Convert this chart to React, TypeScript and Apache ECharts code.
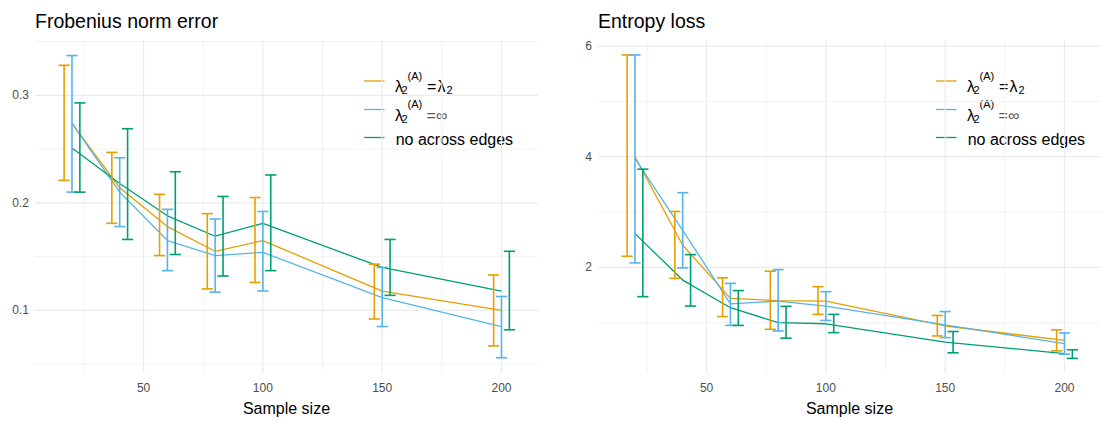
import React, { useEffect, useRef } from "react";
import * as echarts from "echarts";

const sampleSizes = [20, 40, 60, 80, 100, 150, 200];

// Frobenius norm error
const frobEqualMean = [0.274, 0.214, 0.178, 0.155, 0.165, 0.118, 0.1];
const frobEqualLow = [0.221, 0.181, 0.151, 0.12, 0.126, 0.092, 0.067];
const frobEqualHigh = [0.328, 0.247, 0.208, 0.19, 0.205, 0.143, 0.133];
const frobInfMean = [0.274, 0.21, 0.165, 0.151, 0.154, 0.112, 0.085];
const frobInfLow = [0.21, 0.178, 0.137, 0.117, 0.118, 0.085, 0.056];
const frobInfHigh = [0.337, 0.242, 0.194, 0.185, 0.192, 0.14, 0.113];
const frobNoneMean = [0.251, 0.218, 0.188, 0.169, 0.181, 0.14, 0.118];
const frobNoneLow = [0.21, 0.166, 0.152, 0.132, 0.137, 0.114, 0.082];
const frobNoneHigh = [0.293, 0.269, 0.229, 0.206, 0.226, 0.166, 0.155];

// Entropy loss
const entEqualMean = [4.0, 2.4, 1.44, 1.4, 1.39, 0.94, 0.68];
const entEqualLow = [2.2, 1.8, 1.11, 0.88, 1.15, 0.76, 0.49];
const entEqualHigh = [5.84, 3.01, 1.81, 1.93, 1.65, 1.13, 0.87];
const entInfMean = [3.97, 2.67, 1.34, 1.39, 1.3, 0.96, 0.62];
const entInfLow = [2.08, 1.99, 0.95, 0.85, 1.04, 0.73, 0.43];
const entInfHigh = [5.84, 3.35, 1.71, 1.96, 1.56, 1.2, 0.815];
const entNoneMean = [2.61, 1.77, 1.27, 1.0, 0.98, 0.65, 0.44];
const entNoneLow = [1.47, 1.3, 0.95, 0.72, 0.82, 0.455, 0.354];
const entNoneHigh = [3.775, 2.23, 1.58, 1.295, 1.15, 0.84, 0.51];

// Axis breaks
const xMajor = [50, 100, 150, 200];
const xMinor = [25, 75, 125, 175];
const frobYMajor = [0.1, 0.2, 0.3];
const frobYMinor = [0.05, 0.15, 0.25, 0.35];
const entYMajor = [2, 4, 6];
const entYMinor = [1, 3, 5];

const COLORS = { equal: "#E69F00", inf: "#56B4E9", none: "#009E73" };
const FONT = '"Liberation Sans", Arial, Helvetica, sans-serif';
const DODGE = 3.3;
const CAP = 2.35;
const X_MIN = 4.5;
const X_MAX = 215.3;

function gridLineSeries(idx: number, yMin: number, yMajor: number[], yMinor: number[]) {
  const data: number[][] = [];
  xMajor.forEach((v) => data.push([v, yMin, 0, 1]));
  xMinor.forEach((v) => data.push([v, yMin, 0, 0]));
  yMajor.forEach((v) => data.push([X_MIN, v, 1, 1]));
  yMinor.forEach((v) => data.push([X_MIN, v, 1, 0]));
  return {
    type: "custom",
    xAxisIndex: idx,
    yAxisIndex: idx,
    silent: true,
    z: 0,
    data,
    renderItem: (params: any, api: any) => {
      const cs = params.coordSys;
      const p = api.coord([api.value(0), api.value(1)]);
      const horiz = api.value(2) === 1;
      const major = api.value(3) === 1;
      const shape = horiz
        ? { x1: cs.x, y1: p[1], x2: cs.x + cs.width, y2: p[1] }
        : { x1: p[0], y1: cs.y, x2: p[0], y2: cs.y + cs.height };
      return {
        type: "line",
        shape,
        style: { stroke: major ? "#EBEBEB" : "#F2F2F2", lineWidth: major ? 1.2 : 1 },
      };
    },
  };
}

function lineSeries(idx: number, name: string, color: string, means: number[]) {
  return {
    type: "line",
    name,
    xAxisIndex: idx,
    yAxisIndex: idx,
    data: sampleSizes.map((n, i) => [n, means[i]]),
    showSymbol: false,
    symbol: "none",
    lineStyle: { color, width: 1.3 },
    z: 3,
  };
}

function errorSeries(idx: number, color: string, offset: number, lows: number[], highs: number[]) {
  return {
    type: "custom",
    xAxisIndex: idx,
    yAxisIndex: idx,
    silent: true,
    z: 4,
    encode: { x: 0, y: [1, 2] },
    data: sampleSizes.map((n, i) => [n, lows[i], highs[i]]),
    renderItem: (params: any, api: any) => {
      const x = api.value(0) + offset;
      const lo = api.coord([x, api.value(1)]);
      const hi = api.coord([x, api.value(2)]);
      const l = api.coord([x - CAP, api.value(1)])[0];
      const r = api.coord([x + CAP, api.value(1)])[0];
      const style = { stroke: color, lineWidth: 1.6 };
      return {
        type: "group",
        children: [
          { type: "line", shape: { x1: lo[0], y1: lo[1], x2: hi[0], y2: hi[1] }, style },
          { type: "line", shape: { x1: l, y1: hi[1], x2: r, y2: hi[1] }, style },
          { type: "line", shape: { x1: l, y1: lo[1], x2: r, y2: lo[1] }, style },
        ],
      };
    },
  };
}

function txt(x: number, y: number, text: string, size: number, fill = "#000") {
  return {
    type: "text",
    x,
    y,
    silent: true,
    style: {
      text,
      fill,
      fontSize: size,
      fontFamily: FONT,
      align: "left",
      verticalAlign: "middle",
      textAlign: "left",
      textVerticalAlign: "middle",
    },
  };
}

function legendGraphic(dx: number) {
  const keyY = [81, 109.5, 137.5];
  const cols = [COLORS.equal, COLORS.inf, COLORS.none];
  const els: any[] = [];
  keyY.forEach((y, i) => {
    els.push({
      type: "line",
      silent: true,
      shape: { x1: 364 + dx, y1: y, x2: 384.5 + dx, y2: y },
      style: { stroke: cols[i], lineWidth: 1.3 },
    });
  });
  const tx = 395 + dx;
  // row 1: lambda_2^(A) = lambda_2
  let b = keyY[0] + 5.5;
  els.push(txt(tx, b, "λ", 16));
  els.push(txt(tx + 6.5, b + 3.8, "2", 11));
  els.push(txt(tx + 12.5, b - 11, "(A)", 11));
  els.push(txt(tx + 32, b, "=", 16));
  els.push(txt(tx + 42.5, b, "λ", 16));
  els.push(txt(tx + 51.5, b + 3.8, "2", 11));
  // row 2: lambda_2^(A) = infinity
  b = keyY[1] + 5.5;
  els.push(txt(tx, b, "λ", 16));
  els.push(txt(tx + 6.5, b + 3.8, "2", 11));
  els.push(txt(tx + 12.5, b - 11, "(A)", 11));
  els.push(txt(tx + 31.5, b, "=", 16, "#555"));
  els.push(txt(tx + 41, b, "∞", 16, "#555"));
  // row 3
  els.push(txt(tx + 0.7, keyY[2] + 1.5, "no across edges", 16));
  return els;
}

function xAxis(idx: number) {
  return {
    type: "value",
    gridIndex: idx,
    min: X_MIN,
    max: X_MAX,
    axisLine: { show: false },
    axisTick: { show: false },
    splitLine: { show: false },
    axisLabel: {
      customValues: xMajor,
      color: "#4D4D4D",
      fontSize: 12,
      fontFamily: FONT,
      margin: 9,
    },
    name: "Sample size",
    nameLocation: "middle",
    nameGap: 27,
    nameTextStyle: { color: "#000", fontSize: 16, fontFamily: FONT },
  };
}

function yAxis(idx: number, min: number, max: number, major: number[], fmt: (v: number) => string) {
  return {
    type: "value",
    gridIndex: idx,
    min,
    max,
    axisLine: { show: false },
    axisTick: { show: false },
    splitLine: { show: false },
    axisLabel: {
      customValues: major,
      color: "#4D4D4D",
      fontSize: 12,
      fontFamily: FONT,
      margin: 6,
      formatter: fmt,
    },
  };
}

const FROB_Y_MIN = 0.0418;
const FROB_Y_MAX = 0.3515;
const ENT_Y_MIN = 0.09;
const ENT_Y_MAX = 6.11;

const option: any = {
  animation: false,
  backgroundColor: "#ffffff",
  title: [
    {
      text: "Frobenius norm error",
      left: 35,
      top: 11,
      padding: 0,
      textStyle: { fontSize: 19.5, fontWeight: "normal", color: "#000", fontFamily: FONT },
    },
    {
      text: "Entropy loss",
      left: 598,
      top: 11,
      padding: 0,
      textStyle: { fontSize: 19.5, fontWeight: "normal", color: "#000", fontFamily: FONT },
    },
  ],
  grid: [
    { left: 35, top: 40, width: 503, height: 338 },
    { left: 598, top: 40, width: 513, height: 338 },
  ],
  xAxis: [xAxis(0), xAxis(1)],
  yAxis: [
    yAxis(0, FROB_Y_MIN, FROB_Y_MAX, frobYMajor, (v: number) => v.toFixed(1)),
    yAxis(1, ENT_Y_MIN, ENT_Y_MAX, entYMajor, (v: number) => String(Math.round(v))),
  ],
  graphic: [...legendGraphic(0), ...legendGraphic(572)],
  series: [
    gridLineSeries(0, FROB_Y_MIN, frobYMajor, frobYMinor),
    gridLineSeries(1, ENT_Y_MIN, entYMajor, entYMinor),
    lineSeries(0, "equal", COLORS.equal, frobEqualMean),
    lineSeries(0, "inf", COLORS.inf, frobInfMean),
    lineSeries(0, "none", COLORS.none, frobNoneMean),
    errorSeries(0, COLORS.equal, -DODGE, frobEqualLow, frobEqualHigh),
    errorSeries(0, COLORS.inf, 0, frobInfLow, frobInfHigh),
    errorSeries(0, COLORS.none, DODGE, frobNoneLow, frobNoneHigh),
    lineSeries(1, "equal", COLORS.equal, entEqualMean),
    lineSeries(1, "inf", COLORS.inf, entInfMean),
    lineSeries(1, "none", COLORS.none, entNoneMean),
    errorSeries(1, COLORS.equal, -DODGE, entEqualLow, entEqualHigh),
    errorSeries(1, COLORS.inf, 0, entInfLow, entInfHigh),
    errorSeries(1, COLORS.none, DODGE, entNoneLow, entNoneHigh),
  ],
};

export default function App() {
  const ref = useRef<HTMLDivElement>(null);
  useEffect(() => {
    document.body.style.margin = "0";
    const chart = echarts.init(ref.current as HTMLDivElement, null, { renderer: "svg" });
    chart.setOption(option);
    return () => chart.dispose();
  }, []);
  return <div ref={ref} style={{ width: 1101, height: 421 }} />;
}
